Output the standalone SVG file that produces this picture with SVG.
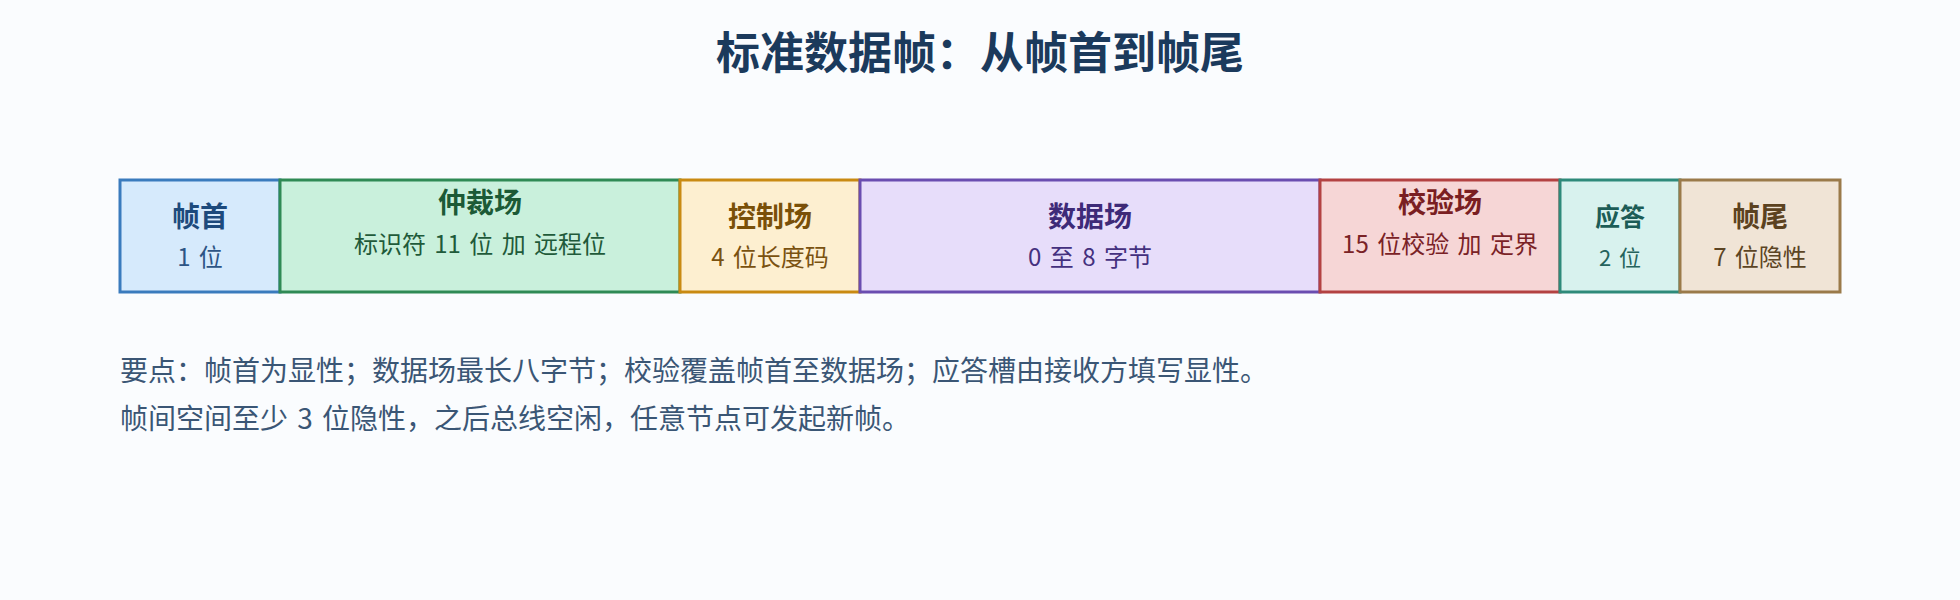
<svg xmlns="http://www.w3.org/2000/svg" width="1960" height="600" viewBox="0 0 1960 600">
  <style>
    text { font-family: "Noto Sans CJK SC", "Noto Sans", "Liberation Sans", sans-serif; }
    .title { font-size: 44px; font-weight: 700; fill: #1b3a5c; text-anchor: middle; }
    .box { stroke-width: 3; }
    .h { font-size: 28px; font-weight: 700; text-anchor: middle; }
    .s { font-size: 24px; text-anchor: middle; word-spacing: 3px; }
    .note { font-size: 28px; fill: #3a5675; word-spacing: 3px; }
  </style>
  <rect x="0" y="0" width="1960" height="600" fill="#fafcfe"/>
  <text class="title" x="980" y="69">标准数据帧：从帧首到帧尾</text>

  <g id="sof">
    <rect class="box" x="120" y="180" width="160" height="112" fill="#d6eafc" stroke="#3a7bbd"/>
    <text class="h" x="200" y="227" fill="#1d4a7c">帧首</text>
    <text class="s" x="200" y="266" fill="#2d5585">1 位</text>
  </g>
  <g id="arbitration">
    <rect class="box" x="280" y="180" width="400" height="112" fill="#c9f0dc" stroke="#2f8a55"/>
    <text class="h" x="480" y="213" fill="#1c5a36">仲裁场</text>
    <text class="s" x="480" y="253" fill="#1f5a3a">标识符 11 位 加 远程位</text>
  </g>
  <g id="control">
    <rect class="box" x="680" y="180" width="180" height="112" fill="#fdefd0" stroke="#c98a12"/>
    <text class="h" x="770" y="227" fill="#7a5008">控制场</text>
    <text class="s" x="770" y="266" fill="#7a5210">4 位长度码</text>
  </g>
  <g id="data">
    <rect class="box" x="860" y="180" width="460" height="112" fill="#e7ddfa" stroke="#6a4db0"/>
    <text class="h" x="1090" y="227" fill="#3e2a78">数据场</text>
    <text class="s" x="1090" y="266" fill="#44307e">0 至 8 字节</text>
  </g>
  <g id="crc">
    <rect class="box" x="1320" y="180" width="240" height="112" fill="#f6d6d6" stroke="#b34242"/>
    <text class="h" x="1440" y="213" fill="#7a1e22">校验场</text>
    <text class="s" x="1440" y="253" fill="#7a2226">15 位校验 加 定界</text>
  </g>
  <g id="ack">
    <rect class="box" x="1560" y="180" width="120" height="112" fill="#d8f2ee" stroke="#2e8a7a"/>
    <text class="h" x="1620" y="226" fill="#1c5c56" style="font-size:25px">应答</text>
    <text class="s" x="1620" y="266" fill="#25635c" style="font-size:22px">2 位</text>
  </g>
  <g id="eof">
    <rect class="box" x="1680" y="180" width="160" height="112" fill="#f0e4d6" stroke="#9a7a4a"/>
    <text class="h" x="1760" y="227" fill="#5c4220">帧尾</text>
    <text class="s" x="1760" y="266" fill="#5c4424">7 位隐性</text>
  </g>

  <g id="connectors"></g>

  <g id="notes">
    <text class="note" x="120" y="381">要点：帧首为显性；数据场最长八字节；校验覆盖帧首至数据场；应答槽由接收方填写显性。</text>
    <text class="note" x="120" y="429">帧间空间至少 3 位隐性，之后总线空闲，任意节点可发起新帧。</text>
  </g>
</svg>
